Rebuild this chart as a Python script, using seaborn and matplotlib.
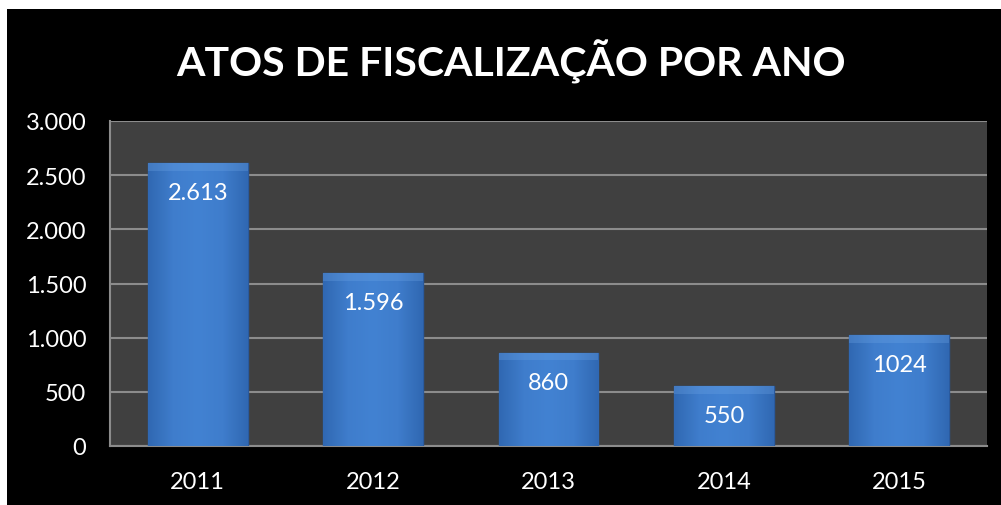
import matplotlib
matplotlib.use("Agg")
import matplotlib.pyplot as plt
import matplotlib.ticker as mticker
from matplotlib.colors import LinearSegmentedColormap
from matplotlib.patches import Rectangle
import numpy as np
import pandas as pd
import seaborn as sns

anos = ["2011", "2012", "2013", "2014", "2015"]
atos = [2613, 1596, 860, 550, 1024]
rotulos = ["2.613", "1.596", "860", "550", "1024"]

df = pd.DataFrame({"ano": anos, "atos": atos})

sns.set_style("dark")
plt.rcParams["font.family"] = ["Lato", "DejaVu Sans"]

fig = plt.figure(figsize=(10.01, 5.06), dpi=100, facecolor="white")
fig.patches.append(Rectangle((7 / 1001, 0), 1, 496 / 506, transform=fig.transFigure,
                             facecolor="black", edgecolor="none", zorder=-10))

ax = fig.add_axes([110 / 1001, 59 / 506, 877 / 1001, 325 / 506])
ax.set_facecolor("#404040")

sns.barplot(data=df, x="ano", y="atos", color="#3D7AD0", width=0.57,
            edgecolor="#2A5A9E", linewidth=1.0, saturation=1, ax=ax, zorder=3)

# gradiente lateral nas barras
xlim = ax.get_xlim()
cmap = LinearSegmentedColormap.from_list("bar", ["#3068B2", "#3F7DCC", "#4282D2", "#3F7DCC", "#3068B2"])
grad = np.linspace(0, 1, 200).reshape(1, -1)
for p in ax.patches:
    x0, y0 = p.get_x(), p.get_y()
    w, h = p.get_width(), p.get_height()
    im = ax.imshow(grad, cmap=cmap, extent=(x0, x0 + w, y0, y0 + h), aspect="auto", zorder=3.5)
    im.set_clip_path(p)
    ax.add_patch(Rectangle((x0, y0 + h - 70), w, 70, facecolor="#6FA6E6", alpha=0.3,
                           edgecolor="none", zorder=3.6, clip_path=p))
ax.set_xlim(xlim)

ax.set_ylim(0, 3000)
ax.set_yticks(range(0, 3001, 500))
ax.yaxis.set_major_formatter(mticker.FuncFormatter(lambda v, p: f"{int(v):,}".replace(",", ".")))
ax.grid(axis="y", color="#8c8c8c", linewidth=1.5, zorder=0)
ax.grid(axis="x", visible=False)
ax.set_axisbelow(True)

for s in ["top", "right"]:
    ax.spines[s].set_visible(False)
for s in ["left", "bottom"]:
    ax.spines[s].set_visible(True)
    ax.spines[s].set_color("#8c8c8c")
    ax.spines[s].set_linewidth(1.5)

ax.tick_params(colors="white", labelsize=17, length=0, pad=17)
ax.tick_params(axis="x", pad=18)
ax.set_xlabel("")
ax.set_ylabel("")

for i, (v, t) in enumerate(zip(atos, rotulos)):
    ax.annotate(t, (i, v), xytext=(0, -21), textcoords="offset points",
                ha="center", va="center", color="white", fontsize=17, zorder=5)

fig.text(511 / 1001, 1 - 62 / 506, "ATOS DE FISCALIZAÇÃO POR ANO", ha="center", va="center",
         color="white", fontsize=29.5, fontweight="bold")

fig.savefig("out.png", dpi=100, facecolor="white")
